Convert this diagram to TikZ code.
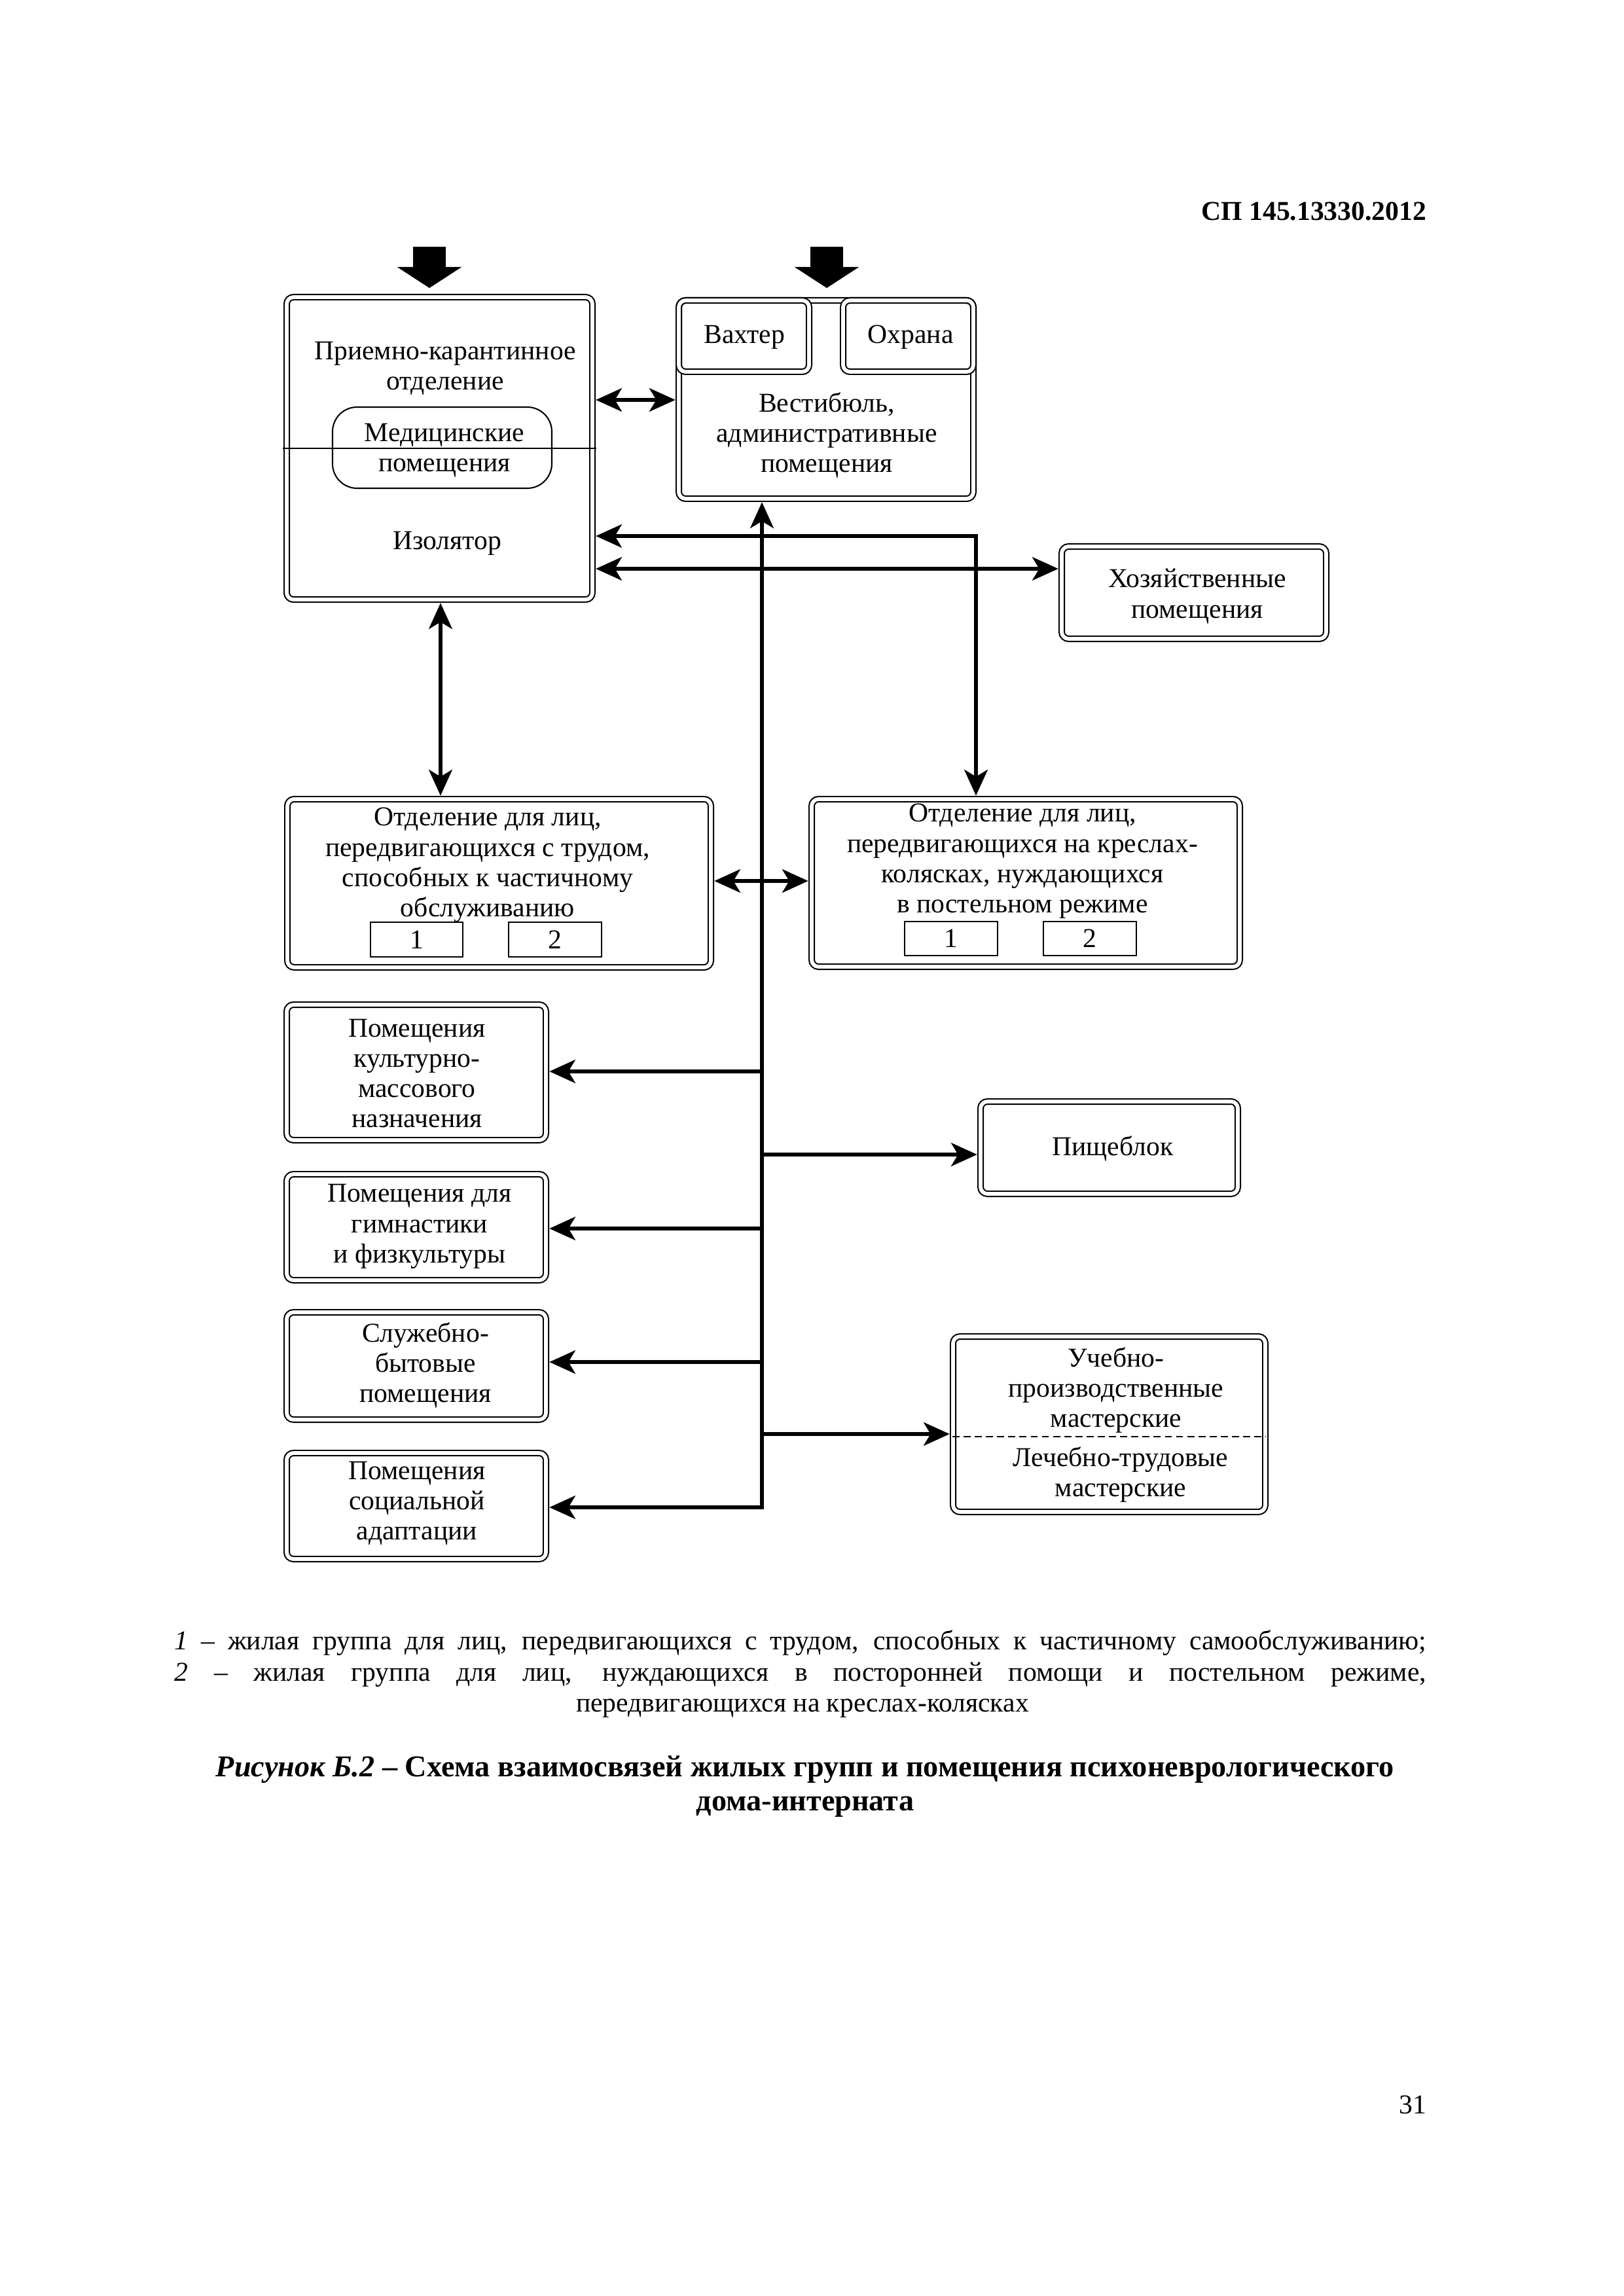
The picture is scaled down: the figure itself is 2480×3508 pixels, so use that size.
\documentclass[tikz,border=0pt]{standalone}
\usepackage{fontspec}
\setmainfont{Liberation Serif}
\usetikzlibrary{fit,arrows.meta}
\begin{document}
\begin{tikzpicture}[x=0.24pt,y=-0.24pt,
  >={Stealth[length=9.5pt,width=8.5pt,inset=2.5pt]},
  box/.style={draw, double, double distance=1.4pt, line width=0.5pt, rounded corners=2.5pt, inner sep=0pt},
  thinbox/.style={draw, line width=0.5pt, inner sep=0pt},
  medbox/.style={draw, line width=0.5pt, rounded corners=9pt, inner sep=0pt},
  txt/.style={align=center, inner sep=0pt, font=\fontsize{10pt}{11.1pt}\selectfont},
  legend/.style={inner sep=0pt, font=\fontsize{10pt}{11.1pt}\selectfont},
  capt/.style={inner sep=0pt, font=\fontsize{11.1pt}{12.5pt}\selectfont\bfseries},
  conn/.style={line width=1.6pt, shorten >=1pt},
  dconn/.style={line width=1.6pt, <->, shorten >=1pt, shorten <=1pt},
  entry/.style={line width=12pt, -{Triangle[length=7.7pt,width=23.3pt]}},
  sepline/.style={line width=0.5pt},
  dsep/.style={line width=0.5pt, dash pattern=on 2.6pt off 1.5pt}]
\useasboundingbox (0,0) rectangle (2480,3508);

% header and page number
\node[inner sep=0pt, anchor=base east, font=\fontsize{10pt}{12pt}\selectfont\bfseries] (hdr) at (2180,337) {СП 145.13330.2012};
\node[inner sep=0pt, anchor=base east, font=\fontsize{10pt}{12pt}\selectfont] (pg) at (2180,3229) {31};

% boxes
\node[box, fit={(438,454) (905,916)}] (lb) {};
\node[medbox, fit={(508,622) (843,746)}] (med) {};
\node[box, fit={(1037,459) (1487,762)}] (vest) {};
\node[box, fit={(1037,459) (1236,568)}] (vakh) {};
\node[box, fit={(1288,459) (1487,568)}] (ohr) {};
\node[box, fit={(1622,835) (2026,976)}] (xoz) {};
\node[box, fit={(439,1221) (1086,1478)}] (odl) {};
\node[box, fit={(1240,1221) (1894,1477)}] (odr) {};
\node[thinbox, fit={(566,1409) (707,1462)}] (l1) {};
\node[thinbox, fit={(777,1409) (919,1462)}] (l2) {};
\node[thinbox, fit={(1382,1408) (1524,1460)}] (r1) {};
\node[thinbox, fit={(1594,1408) (1736,1460)}] (r2) {};
\node[box, fit={(438,1535) (834,1742)}] (kul) {};
\node[box, fit={(438,1794) (834,1956)}] (gym) {};
\node[box, fit={(438,2005) (834,2169)}] (slu) {};
\node[box, fit={(438,2220) (834,2382)}] (soc) {};
\node[box, fit={(1498,1683) (1891,1824)}] (pis) {};
\node[box, fit={(1456,2042) (1933,2310)}] (uch) {};

% helper coordinates
\coordinate (hA) at (0,611);
\coordinate (hB) at (0,819);
\coordinate (hC) at (0,869);
\coordinate (hD) at (0,1346);
\coordinate (hK) at (0,1637);
\coordinate (hP) at (0,1764);
\coordinate (hG) at (0,1877);
\coordinate (hS) at (0,2081);
\coordinate (hU) at (0,2191);
\coordinate (hSep) at (0,685);
\coordinate (hDash) at (0,2195);
\coordinate (vL) at (673,0);
\coordinate (vR) at (1491,0);
\coordinate (tb) at (1164,2303);
\coordinate (inL) at (656,377);
\coordinate (inR) at (1263,377);

% inner lines
\draw[sepline] ([xshift=-1.2pt]lb.west |- hSep) -- ([xshift=1.2pt]lb.east |- hSep);
\draw[dsep] (uch.west |- hDash) -- (uch.east |- hDash);

% texts
\node[txt] (t1) at (680,563) {Приемно-карантинное\\отделение};
\node[txt] (t2) at (679,688) {Медицинские\\помещения};
\node[txt] (t3) at (683,830) {Изолятор};
\node[txt] (t4) at (1137,515) {Вахтер};
\node[txt] (t5) at (1391,515) {Охрана};
\node[txt] (t6) at (1263,665) {Вестибюль,\\административные\\помещения};
\node[txt] (t7) at (1829,911) {Хозяйственные\\помещения};
\node[txt] (t8) at (745,1322) {Отделение для лиц,\\передвигающихся с трудом,\\способных к частичному\\обслуживанию};
\node[txt] (t9) at (1562,1316) {Отделение для лиц,\\передвигающихся на креслах-\\колясках, нуждающихся\\в постельном режиме};
\node[txt] (t10) at (l1.center) {1};
\node[txt] (t11) at (l2.center) {2};
\node[txt] (t12) at (r1.center) {1};
\node[txt] (t13) at (r2.center) {2};
\node[txt] (t14) at (637,1640) {Помещения\\культурно-\\массового\\назначения};
\node[txt] (t15) at (641,1874) {Помещения для\\гимнастики\\и физкультуры};
\node[txt] (t16) at (650,2086) {Служебно-\\бытовые\\помещения};
\node[txt] (t17) at (637,2297) {Помещения\\социальной\\адаптации};
\node[txt] (t18) at (1700,1755) {Пищеблок};
\node[txt] (t19) at (1705,2124) {Учебно-\\производственные\\мастерские};
\node[txt] (t20) at (1712,2253) {Лечебно-трудовые\\мастерские};

% entry arrows
\draw[entry, shorten >=3.1pt] (inL) -- (inL |- lb.north);
\draw[entry, shorten >=4.3pt] (inR) -- (inR |- vest.north);

% connectors
\draw[dconn] (lb.east |- hA) -- (vest.west |- hA);
\draw[dconn] (lb.east |- hB) -| (vR |- odr.north);
\draw[dconn] (lb.east |- hC) -- (xoz.west |- hC);
\draw[dconn] (lb.south -| vL) -- (odl.north -| vL);
\draw[dconn] (odl.east |- hD) -- (odr.west |- hD);
\draw[dconn] (soc.east |- tb) -- (tb) -- (tb |- vest.south);
\draw[conn,->] (tb |- hK) -- (kul.east |- hK);
\draw[conn,->] (tb |- hG) -- (gym.east |- hG);
\draw[conn,->] (tb |- hS) -- (slu.east |- hS);
\draw[conn,->] (tb |- hP) -- (pis.west |- hP);
\draw[conn,->] (tb |- hU) -- (uch.west |- hU);

% legend and caption
\node[legend, anchor=base west] (lg1) at (266,2520) {\makebox[459pt][s]{\textit{1} – жилая группа для лиц, передвигающихся с трудом, способных к частичному самообслуживанию;}};
\node[legend, anchor=base west] (lg2) at (266,2568) {\makebox[459pt][s]{\textit{2} – жилая группа для лиц, нуждающихся в посторонней помощи и постельном режиме,}};
\node[legend, anchor=base] (lg3) at (1226,2615) {передвигающихся на креслах-колясках};
\node[capt, anchor=base] (cp1) at (1230,2714) {\textit{Рисунок Б.2} – Схема взаимосвязей жилых групп и помещения психоневрологического};
\node[capt, anchor=base] (cp2) at (1230,2766) {дома-интерната};
\end{tikzpicture}
\end{document}
